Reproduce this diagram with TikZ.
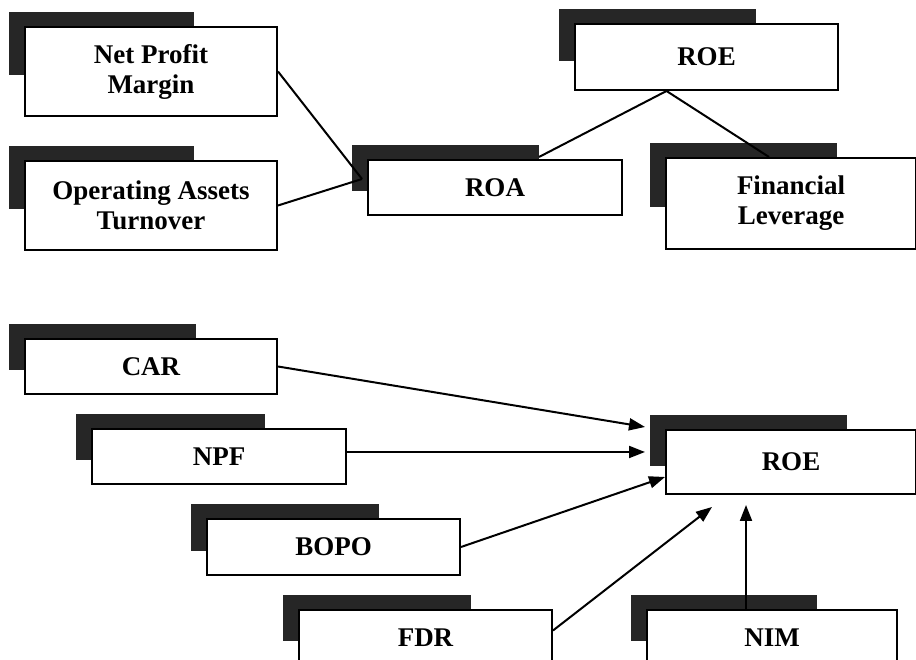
\documentclass[tikz,border=0pt]{standalone}
\usepackage{fontspec}
\setmainfont{Liberation Serif}
\usetikzlibrary{arrows.meta,calc,backgrounds}
\begin{document}
\begin{tikzpicture}[x=1pt,y=1pt,
  box/.style={draw=black, line width=2pt, fill=white, inner sep=0pt, align=center,
    font=\bfseries\fontsize{27}{30}\selectfont},
  tabc/.style={fill=black!85},
  link/.style={line width=2pt},
  arr/.style={line width=2pt, -{Triangle[length=16pt,width=12pt]}}]
\useasboundingbox (0,0) rectangle (916,660);
% top part
\node[box, minimum width=252, minimum height=89] (npm) at (151,588.5) {Net Profit\\Margin};
\node[box, minimum width=252, minimum height=89] (oat) at (151,454.5) {Operating Assets\\Turnover};
\node[box, minimum width=254, minimum height=55] (roa) at (495,472.5) {ROA};
\node[box, minimum width=263, minimum height=66] (roe1) at (706.5,603) {ROE};
\node[box, minimum width=250, minimum height=91] (fl) at (791,456.5) {Financial\\Leverage};
% bottom part
\node[box, minimum width=252, minimum height=55] (car) at (151,293.5) {CAR};
\node[box, minimum width=254, minimum height=55] (npf) at (219,203.5) {NPF};
\node[box, minimum width=253, minimum height=56] (bopo) at (333.5,113) {BOPO};
\node[box, minimum width=253, minimum height=55] (fdr) at (425.5,22.5) {FDR};
\node[box, minimum width=250, minimum height=64] (roe2) at (791,198) {ROE};
\node[box, minimum width=250, minimum height=55] (nim) at (772,22.5) {NIM};
% white page and tabs behind boxes
\begin{pgfonlayer}{background}
\fill[white] (0,0) rectangle (916,660);
\foreach \n/\w in {npm/170,oat/170,roa/172,roe1/182,fl/172,car/172,npf/174,bopo/173,fdr/173,roe2/182,nim/171}{
  \fill[tabc] ($(\n.north west)+(-15,14)$) rectangle ($(\n.west)+(\w,-4)$);
}
\end{pgfonlayer}
% connector end points
\coordinate (roaIn) at ($(roa.north west)+(-5,-20)$);
\coordinate (roeOut) at ($(roe1.south)+(-40,0)$);
\coordinate (roaTop) at ($(roa.north west)+(172,2)$);
\coordinate (flTop) at ($(fl.north west)+(104,0)$);
\coordinate (tCar) at ($(roe2.north west)+(-20,2)$);
\coordinate (tNpf) at ($(roe2.west)+(-20,10)$);
\coordinate (tBopo) at ($(roe2.west)+(0,-15)$);
\coordinate (tFdr) at ($(roe2.south west)+(47,-12)$);
\coordinate (nimTop) at ($(nim.north west)+(100,0)$);
\coordinate (tNim) at ($(roe2.south west)+(81,-10)$);
% top connectors
\draw[link] (npm.east) -- (roaIn);
\draw[link] (oat.east) -- (roaIn);
\draw[link] (roeOut) -- (roaTop);
\draw[link] (roeOut) -- (flTop);
% bottom arrows
\draw[arr] (car.east) -- (tCar);
\draw[arr] (npf.east |- tNpf) -- (tNpf);
\draw[arr] (bopo.east) -- (tBopo);
\draw[arr] ($(fdr.east)+(0,7)$) -- (tFdr);
\draw[arr] (nimTop) -- (tNim);
\end{tikzpicture}
\end{document}
